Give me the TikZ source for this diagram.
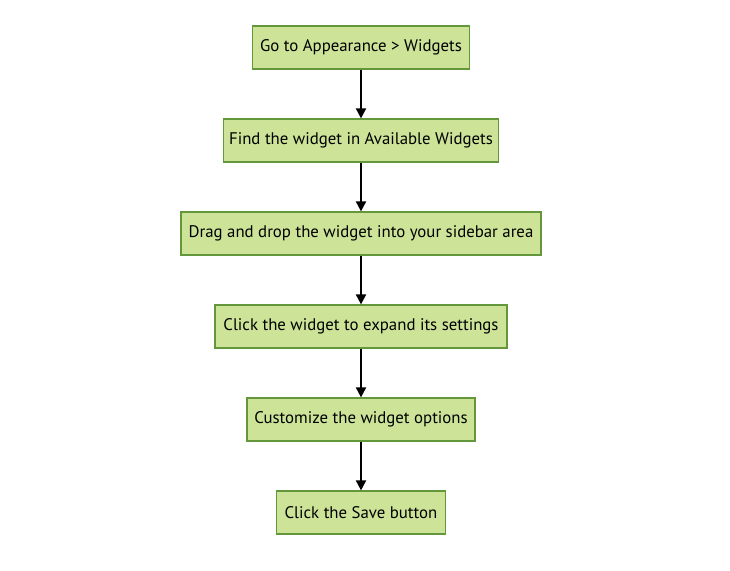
\documentclass[tikz,border=0pt]{standalone}
\usepackage{fontspec}
\setmainfont{PT Sans}
\usetikzlibrary{arrows.meta}
\definecolor{boxfill}{RGB}{205,228,152}
\definecolor{boxline}{RGB}{100,150,60}
\tikzset{
  stepbox/.style={draw=boxline, line width=1.2pt, fill=boxfill, minimum height=43pt, inner sep=0pt, font=\fontsize{16.8}{19}\selectfont, text=black},
  flow/.style={draw=black, line width=1.8pt, -{Triangle[length=10pt,width=10pt]}}
}
\begin{document}
\begin{tikzpicture}[x=1pt,y=-1pt]
\useasboundingbox (0,0) rectangle (730,570);
\node[stepbox, minimum width=217pt] (a) at (361,47.5) {Go to Appearance > Widgets};
\node[stepbox, minimum width=275pt] (b) at (361,140.5) {Find the widget in Available Widgets};
\node[stepbox, minimum width=360pt] (c) at (361,233.5) {Drag and drop the widget into your sidebar area};
\node[stepbox, minimum width=292pt] (d) at (361,326.5) {Click the widget to expand its settings};
\node[stepbox, minimum width=228pt] (e) at (361,419.5) {Customize the widget options};
\node[stepbox, minimum width=169pt] (f) at (361,512.5) {Click the Save button};
\draw[flow] (a) -- (b);
\draw[flow] (b) -- (c);
\draw[flow] (c) -- (d);
\draw[flow] (d) -- (e);
\draw[flow] (e) -- (f);
\end{tikzpicture}
\end{document}
